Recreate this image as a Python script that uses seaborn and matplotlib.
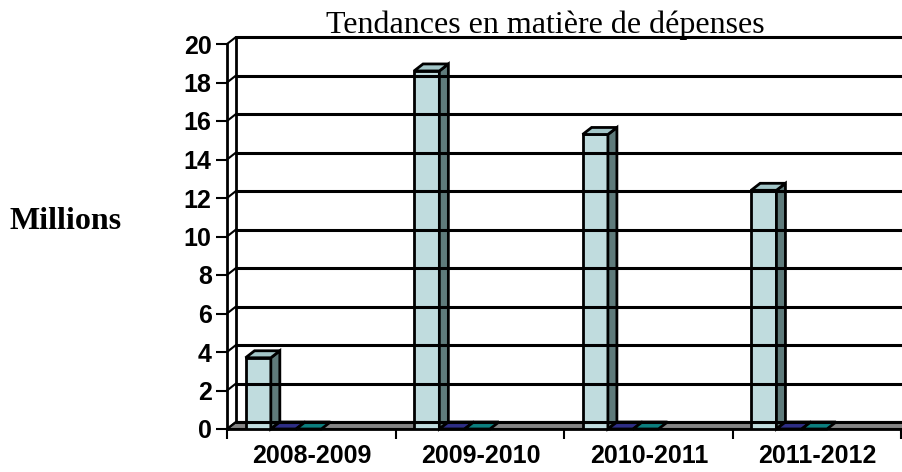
import numpy as np
import pandas as pd
import matplotlib
matplotlib.use("Agg")
import matplotlib.pyplot as plt
import matplotlib.transforms as mtransforms
from matplotlib.patches import Polygon
from matplotlib.lines import Line2D
import seaborn as sns

# data (millions)
periods = ["2008-2009", "2009-2010", "2010-2011", "2011-2012"]
series_names = ["Dépenses", "Série 2", "Série 3"]
spending = [3.7, 18.6, 15.3, 12.4]
series2 = [0, 0, 0, 0]
series3 = [0, 0, 0, 0]
y_ticks = list(range(0, 21, 2))

df = pd.DataFrame({
    "period": periods * 3,
    "series": [series_names[0]] * 4 + [series_names[1]] * 4 + [series_names[2]] * 4,
    "value": spending + series2 + series3,
})

front_colors = ["#BBE0E3", "#333399", "#0E8A8A"]
side_colors = ["#5F7B7B", "#22225F", "#075F5F"]
top_colors = ["#A3C6C8", "#2E2E85", "#0C7F7F"]
floor_color = "#858585"

sns.set_theme(style="white")
plt.rcParams["font.family"] = ["Liberation Sans", "DejaVu Sans"]
plt.rcParams["text.color"] = "black"
plt.rcParams["xtick.color"] = "black"
plt.rcParams["ytick.color"] = "black"

DPI = 100
fig = plt.figure(figsize=(9.02, 4.72), dpi=DPI)
W, H = 902, 472
ax = fig.add_axes([227 / W, (H - 429) / H, (902 - 227) / W, (429 - 44) / H])
ax.set_facecolor("none")

sns.barplot(data=df, x="period", y="value", hue="series", hue_order=series_names,
            palette=front_colors, width=0.45, edgecolor="black", linewidth=2,
            legend=False, ax=ax, zorder=3)

xmin, xmax = -0.335, 3.67
ax.set_xlim(xmin, xmax)
ax.set_ylim(0, 20)

# category boundaries as ticks, labels centered in each category
ax.set_xticks([k + xmin for k in range(5)])
ax.set_xticklabels([])
ax.set_xticks([i + 0.17 for i in range(4)], minor=True)
ax.set_xticklabels(periods, minor=True, fontsize=18, fontweight="bold", color="black")
ax.tick_params(axis="x", which="major", direction="out", length=7, width=1.5,
               color="black", bottom=True)
ax.tick_params(axis="x", which="minor", length=0, pad=11)
ax.set_yticks(y_ticks)
ax.set_yticklabels([str(t) for t in y_ticks], fontsize=18, fontweight="bold",
                   color="black")
ax.tick_params(axis="y", direction="out", length=8, width=1.5, color="black",
               left=True, pad=3)
ax.set_xlabel("")
ax.set_ylabel("")

for s in ["top", "right"]:
    ax.spines[s].set_visible(False)
for s in ["left", "bottom"]:
    ax.spines[s].set_linewidth(2)
    ax.spines[s].set_color("black")

# pseudo 3-D depth offset in pixels
dx, dy = 9, 7
ident = mtransforms.IdentityTransform()


def px(x, y):
    return ax.transData.transform((x, y))


# floor
f0 = px(xmin, 0)
f1 = px(xmax + 0.1, 0)
ax.add_patch(Polygon([f0, f1, f1 + [dx, dy], f0 + [dx, dy]], closed=True,
                     facecolor=floor_color, edgecolor="black", linewidth=1.5,
                     transform=ident, clip_on=False, zorder=1.5))

# back wall gridlines, side wall and connectors
for t in y_ticks:
    a = px(xmin, t)
    b = px(xmax + 0.1, t)
    fig.add_artist(Line2D([a[0] + dx, b[0] + dx], [a[1] + dy, b[1] + dy],
                          color="black", linewidth=2.2, transform=ident, zorder=1))
    ax.add_line(Line2D([a[0], a[0] + dx], [a[1], a[1] + dy], color="black",
                       linewidth=1.5, transform=ident, clip_on=False, zorder=2))
b0 = px(xmin, 0)
b1 = px(xmin, 20)
ax.add_line(Line2D([b0[0] + dx, b1[0] + dx], [b0[1] + dy, b1[1] + dy], color="black",
                   linewidth=2, transform=ident, clip_on=False, zorder=2))

# side and top faces of the bars
n = len(periods)
for i, p in enumerate(ax.patches[:3 * n]):
    k = i // n
    x0, y0 = p.get_x(), p.get_y()
    x1, y1 = x0 + p.get_width(), y0 + p.get_height()
    bl, br, tl, tr = px(x0, y0), px(x1, y0), px(x0, y1), px(x1, y1)
    if p.get_height() > 0:
        ax.add_patch(Polygon([br, br + [dx, dy], tr + [dx, dy], tr], closed=True,
                             facecolor=side_colors[k], edgecolor="black",
                             linewidth=2, transform=ident, clip_on=False, zorder=3.1))
    ax.add_patch(Polygon([tl, tl + [dx, dy], tr + [dx, dy], tr], closed=True,
                         facecolor=top_colors[k], edgecolor="black",
                         linewidth=2, transform=ident, clip_on=False, zorder=3.2))

fig.text(545 / W, 1 - 33 / H, "Tendances en matière de dépenses", ha="center",
         va="baseline", fontsize=23, color="black",
         family=["Liberation Serif", "DejaVu Serif"])
fig.text(10 / W, 1 - 229 / H, "Millions", ha="left", va="baseline", fontsize=23,
         fontweight="bold", color="black", family=["Liberation Serif", "DejaVu Serif"])

fig.savefig("out.png", dpi=DPI)
